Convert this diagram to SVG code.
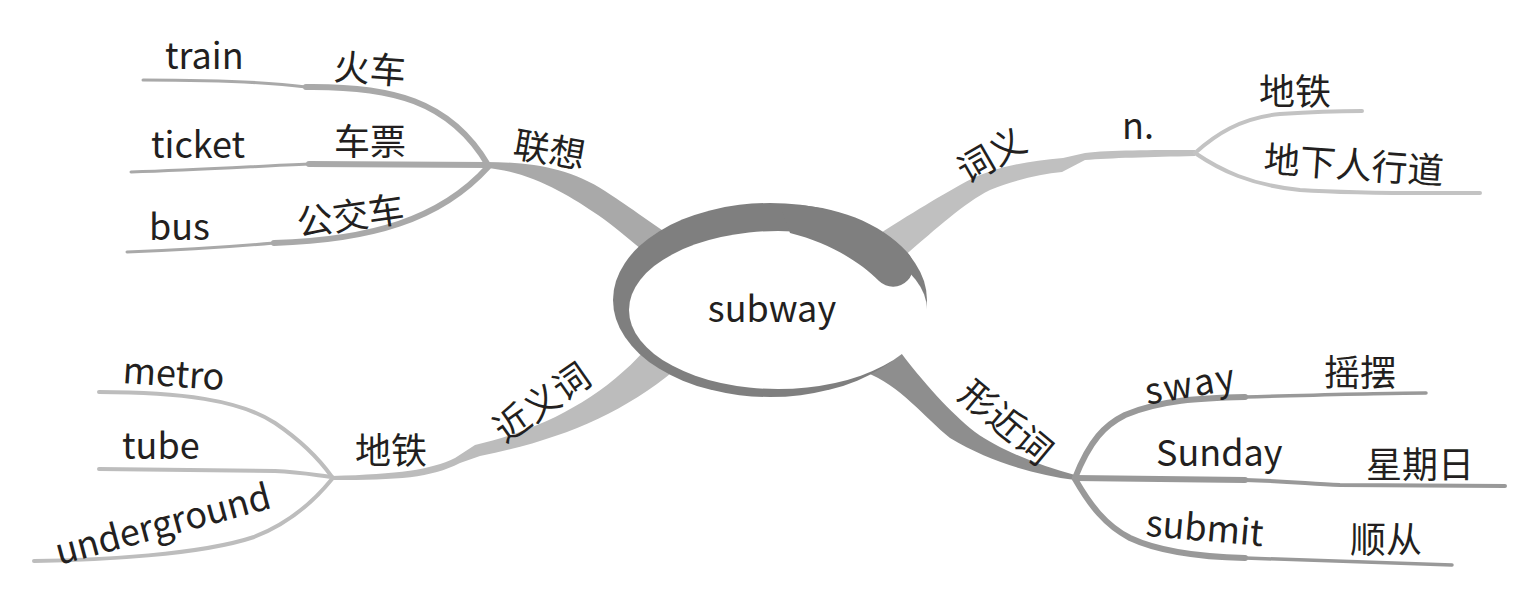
<svg xmlns="http://www.w3.org/2000/svg" width="1516" height="606" viewBox="0 0 1516 606">
<style>
text{font-family:"Noto Sans CJK SC","Noto Sans",sans-serif;font-size:36px;fill:#231f20}
.c{text-anchor:middle;dominant-baseline:central}
.thin{fill:none;stroke-linecap:round}
.g1{stroke:#a9a9a9}
.g2{stroke:#c3c3c3}
.g3{stroke:#bdbdbd}
.g4{stroke:#999999}
</style>
<rect width="1516" height="606" fill="#ffffff"/>
<g id="connectors">
  <!-- 联想 -->
  <path d="M486 162 C530 162 570 168 605 191 C625 204 645 218 690 250 L675 275 C640 250 620 230 598 215 C570 196 530 171 486 168 Z" fill="#a9a9a9"/>
  <path class="thin g1" stroke-width="3" d="M143 80 C200 80 260 81 306 87"/>
  <path class="thin g1" stroke-width="6" d="M306 87 C390 86 450 100 488 165"/>
  <path class="thin g1" stroke-width="3" d="M131 172 C200 170 260 166 309 164"/>
  <path class="thin g1" stroke-width="6" d="M309 164 L488 165"/>
  <path class="thin g1" stroke-width="3" d="M127 252 C180 250 230 247 274 243"/>
  <path class="thin g1" stroke-width="6" d="M274 243 C370 240 440 220 488 167"/>
  <!-- 词义 -->
  <path d="M1195 150 C1150 150 1110 150 1085 153 L1063 158 C1020 162 990 168 960 185 C930 202 900 220 855 250 L890 268 C930 235 960 205 990 190 C1015 180 1040 174 1062 172 L1085 160 C1110 158 1150 157 1195 156 Z" fill="#c0c0c0"/>
  <path class="thin g2" stroke-width="4" d="M1195 153 C1215 135 1240 118 1280 114 C1310 112 1340 111 1362 111"/>
  <path class="thin g2" stroke-width="4" d="M1195 153 C1220 170 1250 185 1300 190 C1360 194 1420 193 1480 193"/>
  <!-- 近义词 -->
  <path d="M332 476 C400 474 430 470 455 458 L475 445 C540 430 600 400 645 350 L675 370 C620 415 560 440 480 456 L460 463 C430 478 400 480 332 480 Z" fill="#bcbcbc"/>
  <path class="thin g3" stroke-width="4" d="M99 392 C180 392 240 400 275 423 C300 440 320 460 332 477"/>
  <path class="thin g3" stroke-width="4" d="M99 469 L275 471 C300 472 315 475 332 477"/>
  <path class="thin g3" stroke-width="4" d="M34 561 C100 560 200 555 254 537 C290 523 315 500 332 479"/>
  <!-- 形近词 -->
  <path d="M1075 475 C1040 466 1000 450 975 432 C950 412 925 385 895 345 L865 372 C900 385 925 418 950 438 C990 462 1035 475 1075 480 Z" fill="#8e8e8e"/>
  <path class="thin g4" stroke-width="6" d="M1075 478 C1090 440 1105 425 1125 415 C1160 400 1200 398 1245 397"/>
  <path class="thin g4" stroke-width="3.5" d="M1245 397 C1320 395 1380 393 1426 393"/>
  <path class="thin g4" stroke-width="6" d="M1075 478 L1245 480"/>
  <path class="thin g4" stroke-width="4" d="M1245 480 C1290 481 1310 484 1340 485 L1505 486"/>
  <path class="thin g4" stroke-width="6" d="M1075 479 C1090 505 1105 525 1130 538 C1160 552 1200 557 1245 558"/>
  <path class="thin g4" stroke-width="3.5" d="M1245 558 C1320 560 1390 563 1452 565"/>
</g>
<g id="center">
  <ellipse cx="770" cy="300" rx="157" ry="97" fill="#7f7f7f"/>
  <ellipse cx="778" cy="310" rx="149" ry="79" fill="#ffffff"/>
  <path d="M780 205 C830 203 880 222 907 252 A20 20 0 0 1 879 281 C860 262 830 243 790 233 Z" fill="#7f7f7f"/>
  <text x="772" y="322" text-anchor="middle">subway</text>
</g>
<g id="n-lianxiang"><text class="c" transform="translate(550,147) rotate(10)">联想</text></g>
<g id="n-train"><text x="165" y="69">train</text></g>
<g id="n-huoche"><text class="c" transform="translate(370,66) rotate(4)">火车</text></g>
<g id="n-ticket"><text x="151" y="158">ticket</text></g>
<g id="n-chepiao"><text class="c" transform="translate(370,139)">车票</text></g>
<g id="n-bus"><text x="149" y="240">bus</text></g>
<g id="n-gongjiaoche"><text class="c" transform="translate(350,213) rotate(-8)">公交车</text></g>
<g id="n-ciyi"><text class="c" transform="translate(990,153) rotate(-30)">词义</text></g>
<g id="n-n"><text x="1122" y="139">n.</text></g>
<g id="n-ditie1"><text class="c" transform="translate(1295,89)">地铁</text></g>
<g id="n-dixia"><text class="c" transform="translate(1354,162) rotate(4)">地下人行道</text></g>
<g id="n-jinyici"><text class="c" transform="translate(540,400) rotate(-35)">近义词</text></g>
<g id="n-ditie2"><text class="c" transform="translate(391,448)">地铁</text></g>
<g id="n-metro"><text transform="translate(122,383) rotate(4)">metro</text></g>
<g id="n-tube"><text x="122" y="459">tube</text></g>
<g id="n-underground"><text class="c" transform="translate(162,521) rotate(-15)">underground</text></g>
<g id="n-xingjinci"><text class="c" transform="translate(1008,420) rotate(40)">形近词</text></g>
<g id="n-sway"><text class="c" transform="translate(1190,381) rotate(-10)" letter-spacing="2">sway</text></g>
<g id="n-yaobai"><text class="c" transform="translate(1360,370)">摇摆</text></g>
<g id="n-sunday"><text x="1156" y="466">Sunday</text></g>
<g id="n-xingqiri"><text class="c" transform="translate(1420,462)">星期日</text></g>
<g id="n-submit"><text class="c" transform="translate(1205,525) rotate(5)">submit</text></g>
<g id="n-shuncong"><text class="c" transform="translate(1386,537)">顺从</text></g>
</svg>
